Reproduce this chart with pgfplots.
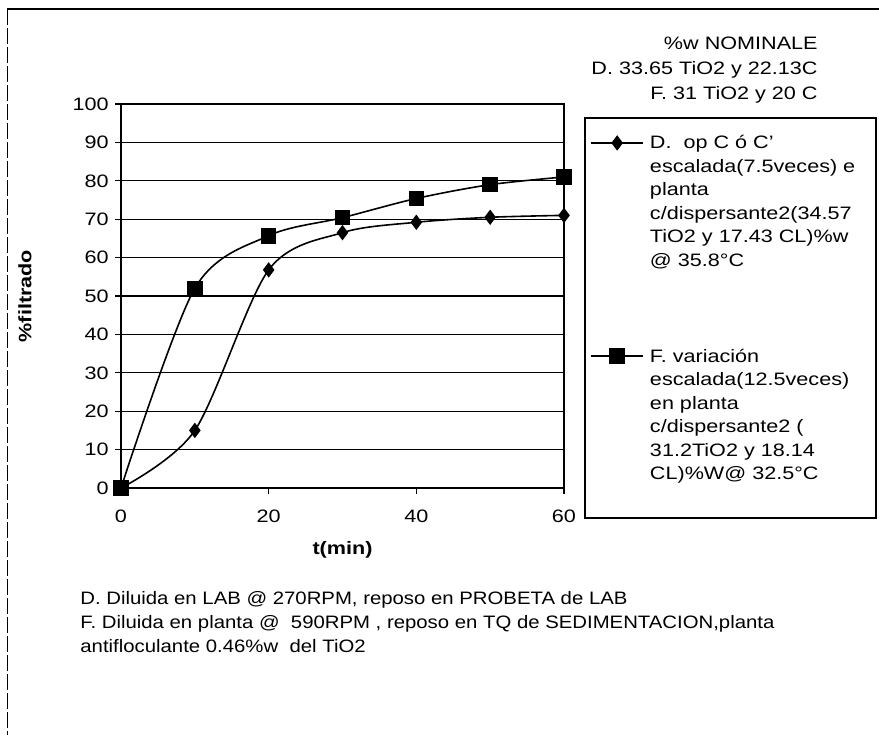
\documentclass[border=0pt]{standalone}
\usepackage{fontspec}
\setmainfont[FakeStretch=1.2]{Liberation Sans}
\newfontfamily\notefont[FakeStretch=1.13]{Liberation Sans}
\usepackage{pgfplots}
\pgfplotsset{compat=1.18}

\begin{document}
\fontsize{9}{11.75}\selectfont
\begin{tikzpicture}
% page frame and free texts (1 unit = 1 px of the 879x735 reference)
\begin{scope}[x=0.5pt,y=-0.5pt]
  \path[use as bounding box] (0,0) rectangle (879,735);
  \draw[line width=0.8pt] (7,9) -- (879,9);
  \draw[line width=0.4pt, dash pattern=on 8pt off 1.5pt] (7,9) -- (7,735);
  \draw[line width=0.8pt] (585,118) rectangle (876,518);
  \node[anchor=base east, inner sep=0pt] at (818,49) {\%w NOMINALE};
  \node[anchor=base east, inner sep=0pt] at (818,74) {D. 33.65 TiO2 y 22.13C};
  \node[anchor=base east, inner sep=0pt] at (818,99) {F. 31 TiO2 y 20 C};
  \node[anchor=base west, inner sep=0pt] at (80,604) {\notefont D. Diluida en LAB @ 270RPM, reposo en PROBETA de LAB};
  \node[anchor=base west, inner sep=0pt] at (80,628) {\notefont F. Diluida en planta @\ \ 590RPM , reposo en TQ de SEDIMENTACION,planta};
  \node[anchor=base west, inner sep=0pt] at (80,652) {\notefont antifloculante 0.46\%w\ \ del TiO2};
\end{scope}

\begin{axis}[
  at={(60.5pt,-244pt)}, anchor=south west,
  scale only axis, width=221.5pt, height=192pt,
  xmin=0, xmax=60, ymin=0, ymax=100,
  xtick={0,20,40,60}, ytick={0,10,...,100},
  tick pos=left, tick align=outside, major tick length=3pt,
  ymajorgrids, grid style={black, line width=0.6pt},
  axis line style={line width=0.8pt},
  every tick/.style={black, line width=0.6pt},
  /pgf/number format/assume math mode=true,
  tick label style={font=\fontsize{9}{11}\selectfont},
  xticklabel style={yshift=-5pt},
  xlabel={\textbf{t(min)}}, ylabel={\textbf{\%filtrado}},
  xlabel style={at={(axis description cs:0.5,-0.161)}, anchor=center},
  ylabel style={at={(axis description cs:-0.217,0.5)}, anchor=center, rotate=0},
  legend style={at={(1.0587,0.932)}, anchor=north west, draw=none, fill=none,
    inner sep=0pt, row sep=95pt, column sep=2pt,
    cells={anchor=base west}, nodes={inner sep=1pt}},
  legend image code/.code={%
    \draw[#1, mark repeat=2, mark phase=2]
      plot coordinates {(0pt,3pt) (13pt,3pt) (26pt,3pt)};},
]
\addplot[black, line width=0.8pt, smooth, tension=0.5, mark=diamond*, mark size=3.2pt,
  mark options={solid, fill=black}]
  coordinates {(0,0) (10,15) (20,56.8) (30,66.5) (40,69.2) (50,70.5) (60,71)};
\addlegendentry{\begin{tabular}[t]{@{}l@{}}D.\ \ op C ó C'\\escalada(7.5veces) e\\planta\\c/dispersante2(34.57\\TiO2 y 17.43 CL)\%w\\@ 35.8°C\end{tabular}}
\addplot[black, line width=0.8pt, smooth, tension=0.5, mark=square*, mark size=3.5pt,
  mark options={solid, fill=black}]
  coordinates {(0,0) (10,52) (20,65.7) (30,70.4) (40,75.4) (50,79) (60,81)};
\addlegendentry{\begin{tabular}[t]{@{}l@{}}F. variación\\escalada(12.5veces)\\en planta\\c/dispersante2 (\\31.2TiO2 y 18.14\\CL)\%W@ 32.5°C\end{tabular}}
\end{axis}
\end{tikzpicture}
\end{document}
